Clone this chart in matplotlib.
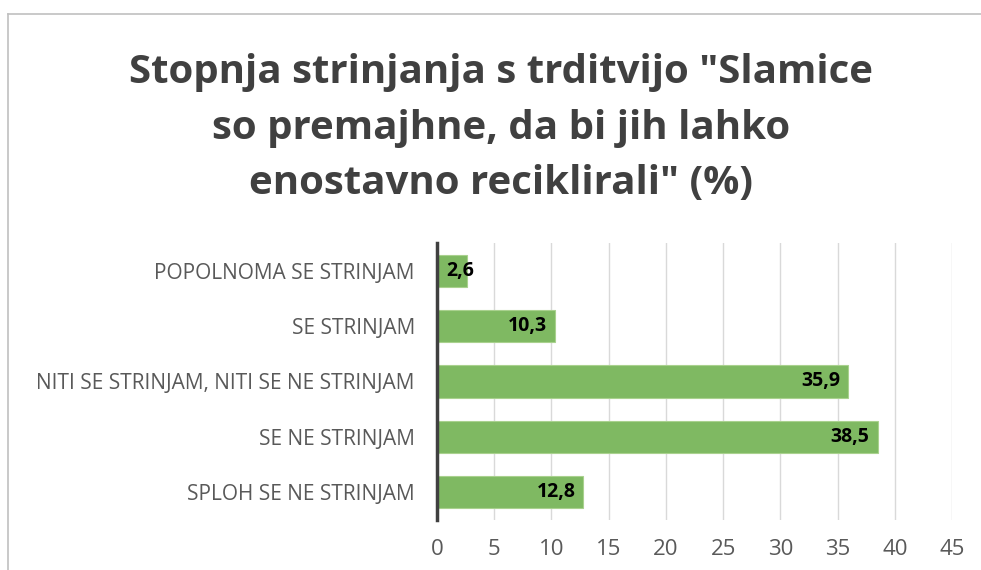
import matplotlib.pyplot as plt
from matplotlib.lines import Line2D

categories = ['POPOLNOMA SE STRINJAM', 'SE STRINJAM', 'NITI SE STRINJAM, NITI SE NE STRINJAM',
              'SE NE STRINJAM', 'SPLOH SE NE STRINJAM']
values = [2.6, 10.3, 35.9, 38.5, 12.8]
value_labels = ['2,6', '10,3', '35,9', '38,5', '12,8']
ticks = [0, 5, 10, 15, 20, 25, 30, 35, 40, 45]

plt.rcParams['font.family'] = ['Open Sans', 'DejaVu Sans']

W, H = 981, 570
fig = plt.figure(figsize=(W / 100, H / 100), dpi=100)
ax = fig.add_axes([437 / W, 1 - 520 / H, (952 - 437) / W, (520 - 243) / H])

ypos = list(range(len(categories)))
ax.barh(ypos, values, height=0.58, color='#7fb962', edgecolor='#a9d18e', linewidth=0.8, zorder=3)
for y, v, lab in zip(ypos, values, value_labels):
    # short bars: label does not fit inside, Excel pushes it right of the axis
    if v < 5:
        ax.text(0.8, y, lab, ha='left', va='center', fontsize=14, fontweight='bold',
                color='black', zorder=4)
    else:
        ax.text(v - 0.7, y, lab, ha='right', va='center', fontsize=14, fontweight='bold',
                color='black', zorder=4)

ax.set_xlim(0, 45)
ax.set_ylim(len(categories) - 0.5, -0.5)
ax.set_yticks(ypos)
ax.set_yticklabels(categories, fontsize=15, color='#595959')
ax.set_xticks(ticks)
ax.set_xticklabels([str(t) for t in ticks], fontsize=16, color='#595959')
ax.tick_params(axis='both', length=0)
ax.tick_params(axis='y', pad=16)
ax.tick_params(axis='x', pad=14)
ax.grid(axis='x', color='#d9d9d9', linewidth=1, zorder=0)
for s in ['top', 'right', 'bottom']:
    ax.spines[s].set_visible(False)
ax.spines['left'].set_color('#404040')
ax.spines['left'].set_linewidth(2.5)
ax.spines['left'].set_zorder(5)

fig.text(501 / W, 1 - 128 / H, 'Stopnja strinjanja s trditvijo "Slamice\nso premajhne, da bi jih lahko\nenostavno reciklirali" (%)',
         ha='center', va='center', fontsize=29, fontweight='bold', color='#404040', linespacing=1.55)

# chart frame
fig.add_artist(Line2D([8 / W, 1], [1 - 14 / H, 1 - 14 / H], color='#c0c0c0', linewidth=1.2))
fig.add_artist(Line2D([8 / W, 8 / W], [0, 1 - 14 / H], color='#c0c0c0', linewidth=1.2))

plt.savefig('out.png', dpi=100)
